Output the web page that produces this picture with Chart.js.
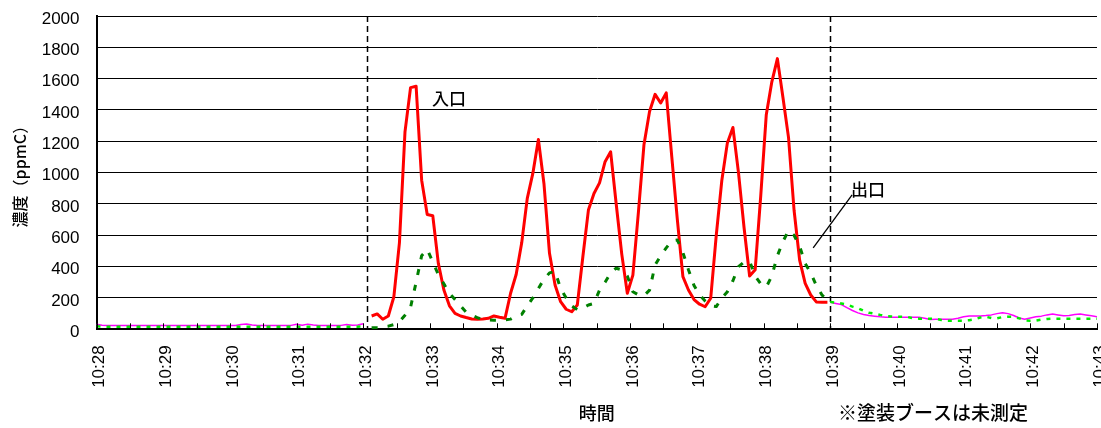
<!DOCTYPE html>
<html>
<head>
<meta charset="utf-8">
<script src="https://cdn.jsdelivr.net/npm/chart.js@4.4.1/dist/chart.umd.min.js"></script>
<style>
  body { margin: 0; background: #fff; }
  canvas { display: block; }
</style>
</head>
<body>
<canvas id="chart" width="1101" height="428"></canvas>
<script>
// time axis is seconds after 10:28:00, one sample every 5 s
const STEP = 5;
const beforeStart = 0;     // 10:28:00
const coatStart = 247.5;   // first sample while the booth is running
const afterStart = 660;    // 10:39:00
const markerTimes = [243, 660];  // dashed lines: booth on / off

const xTickLabels = ['10:28', '10:29', '10:30', '10:31', '10:32', '10:33', '10:34', '10:35',
  '10:36', '10:37', '10:38', '10:39', '10:40', '10:41', '10:42', '10:43'];

// 入口 / 出口 while painting (ppmC)
const inletCoat = [85, 98, 64, 85, 208, 552, 1260, 1543, 1552, 952,
  733, 725, 421, 251, 150, 102, 85, 75, 66, 64,
  66, 70, 85, 77, 70, 230, 350, 552, 836, 995,
  1212, 931, 485, 283, 176, 128, 112, 155, 463, 761,
  867, 935, 1070, 1133, 800, 480, 230, 346, 750, 1180,
  1390, 1500, 1445, 1509, 1100, 700, 336, 251, 190, 160,
  144, 198, 600, 950, 1190, 1288, 1000, 650, 340, 380,
  850, 1370, 1580, 1728, 1480, 1225, 760, 442, 293, 219,
  175, 172, 172];
const outletCoat = [10, 12, 15, 20, 30, 50, 90, 140, 300, 470,
  510, 430, 350, 290, 230, 190, 150, 110, 90, 75,
  62, 60, 58, 58, 60, 65, 85, 95, 150, 200,
  260, 320, 360, 370, 260, 200, 150, 125, 135, 155,
  165, 250, 300, 360, 390, 380, 340, 240, 220, 215,
  250, 410, 470, 520, 565, 570, 490, 380, 280, 220,
  180, 150, 145, 200, 240, 310, 400, 430, 435, 340,
  290, 270, 340, 470, 560, 630, 600, 530, 420, 360,
  280, 220, 185];

// booth idle (thin lines)
const inletBefore = [32, 26, 24, 24, 24, 24, 24, 24, 24, 24,
  24, 24, 24, 24, 24, 24, 24, 24, 24, 24,
  24, 24, 24, 24, 24, 25, 30, 34, 28, 24,
  24, 24, 24, 24, 24, 25, 32, 26, 33, 28,
  24, 24, 24, 24, 25, 31, 26, 27, 36];
const outletBefore = [19, 17, 17, 17, 17, 17, 17, 17, 17, 17,
  17, 17, 17, 17, 17, 17, 17, 17, 17, 17,
  17, 17, 17, 17, 17, 17, 17, 17, 17, 17,
  17, 17, 17, 17, 17, 17, 17, 17, 17, 17,
  17, 17, 17, 17, 17, 17, 17, 17, 18];
const inletAfter = [172, 165, 158, 138, 120, 105, 95, 88, 84, 80,
  77, 77, 77, 77, 77, 77, 77, 70, 62, 64,
  64, 64, 64, 70, 80, 85, 85, 85, 88, 92,
  100, 106, 100, 88, 72, 64, 72, 80, 84, 92,
  98, 92, 86, 88, 94, 98, 92, 86, 80];
const outletAfter = [175, 170, 165, 158, 145, 135, 118, 106, 100, 92,
  85, 82, 80, 80, 78, 70, 68, 68, 67, 66,
  60, 55, 55, 55, 55, 58, 64, 75, 80, 72,
  70, 78, 80, 80, 70, 57, 55, 56, 62, 66,
  68, 68, 68, 68, 68, 68, 68, 68, 68];

function points(start, values) {
  return values.map((v, i) => ({ x: start + i * STEP, y: v }));
}

const jpFont = '"Noto Sans CJK JP", sans-serif';
const numFont = '"Liberation Sans", Arial, sans-serif';

const overlay = {
  id: 'overlay',
  beforeDatasetsDraw(chart) {
    const { ctx, chartArea, scales: { x } } = chart;
    ctx.save();
    ctx.strokeStyle = '#000';
    ctx.lineWidth = 1.5;
    ctx.setLineDash([6, 4]);
    markerTimes.forEach(t => {
      const px = Math.round(x.getPixelForValue(t)) + 0.5;
      ctx.beginPath();
      ctx.moveTo(px, chartArea.top);
      ctx.lineTo(px, chartArea.bottom);
      ctx.stroke();
    });
    ctx.restore();
  },
  afterDraw(chart) {
    const { ctx, chartArea, scales: { x, y } } = chart;
    ctx.save();
    // inward tick marks every 30 s
    ctx.strokeStyle = '#000';
    ctx.lineWidth = 1;
    for (let t = 0; t <= 900; t += 30) {
      const px = Math.round(x.getPixelForValue(t)) + 0.5;
      ctx.beginPath();
      ctx.moveTo(px, chartArea.bottom - 6);
      ctx.lineTo(px, chartArea.bottom);
      ctx.stroke();
    }
    // leader line to 出口
    ctx.lineWidth = 1.3;
    ctx.beginPath();
    ctx.moveTo(x.getPixelForValue(644.7), y.getPixelForValue(520));
    ctx.lineTo(x.getPixelForValue(679.7), y.getPixelForValue(858));
    ctx.stroke();
    ctx.fillStyle = '#000';
    ctx.font = '500 17px ' + jpFont;
    ctx.textAlign = 'center';
    ctx.textBaseline = 'middle';
    ctx.fillText('入口', x.getPixelForValue(317), y.getPixelForValue(1475));
    ctx.fillText('出口', x.getPixelForValue(694), y.getPixelForValue(892));
    ctx.font = '500 19px ' + jpFont;
    ctx.textAlign = 'left';
    ctx.fillText('※塗装ブースは未測定', 838, 413);
    ctx.restore();
  }
};

new Chart(document.getElementById('chart'), {
  type: 'line',
  data: {
    datasets: [
      { label: '入口', data: points(coatStart, inletCoat), borderColor: '#ff0000', borderWidth: 3, order: 3 },
      { label: '出口', data: points(coatStart, outletCoat), borderColor: '#008000', borderWidth: 3, borderDash: [6, 10], order: 2 },
      { label: '入口(停止前)', data: points(beforeStart, inletBefore), borderColor: '#ff00ff', borderWidth: 1.5, order: 5 },
      { label: '出口(停止前)', data: points(beforeStart, outletBefore), borderColor: '#00ee00', borderWidth: 2.5, borderDash: [4, 6], order: 4 },
      { label: '入口(停止後)', data: points(afterStart, inletAfter), borderColor: '#ff00ff', borderWidth: 1.5, order: 5 },
      { label: '出口(停止後)', data: points(afterStart, outletAfter), borderColor: '#00ee00', borderWidth: 2.5, borderDash: [4, 6], order: 4 }
    ]
  },
  options: {
    responsive: false,
    animation: false,
    devicePixelRatio: 1,
    layout: { padding: { top: 16, right: 4, bottom: 0, left: 0 } },
    elements: {
      point: { radius: 0 },
      line: { tension: 0, fill: false, borderJoinStyle: 'round' }
    },
    plugins: { legend: { display: false }, tooltip: { enabled: false } },
    scales: {
      x: {
        type: 'linear',
        min: 0,
        max: 900,
        grid: { drawOnChartArea: false, drawTicks: false },
        border: { color: '#000', width: 2 },
        ticks: {
          stepSize: 60,
          autoSkip: false,
          minRotation: 90,
          maxRotation: 90,
          padding: 16,
          labelOffset: 3,
          color: '#000',
          font: { family: numFont, size: 17 },
          callback: v => xTickLabels[v / 60]
        },
        title: {
          display: true,
          text: '時間',
          color: '#000',
          font: { family: jpFont, size: 18, weight: '500' },
          padding: { top: 0, bottom: 4 }
        },
        afterFit(scale) {
          scale.height = 98.7;
          scale.paddingLeft = 0;
          scale.paddingRight = 0;
        }
      },
      y: {
        min: 0,
        max: 2000,
        grid: { color: '#000', lineWidth: 1, drawTicks: false },
        border: { color: '#000', width: 2 },
        ticks: {
          stepSize: 200,
          padding: 17,
          labelOffset: 3,
          color: '#000',
          font: { family: numFont, size: 17 },
          callback: v => String(v)
        },
        title: {
          display: true,
          text: '濃度（ppmC）',
          color: '#000',
          font: { family: jpFont, size: 16, weight: '500' },
          padding: { top: 10, bottom: 0 }
        },
        afterFit(scale) {
          scale.width = 96.5;
          scale.paddingTop = 0;
          scale.paddingBottom = 0;
        }
      }
    }
  },
  plugins: [overlay]
});
</script>
</body>
</html>
